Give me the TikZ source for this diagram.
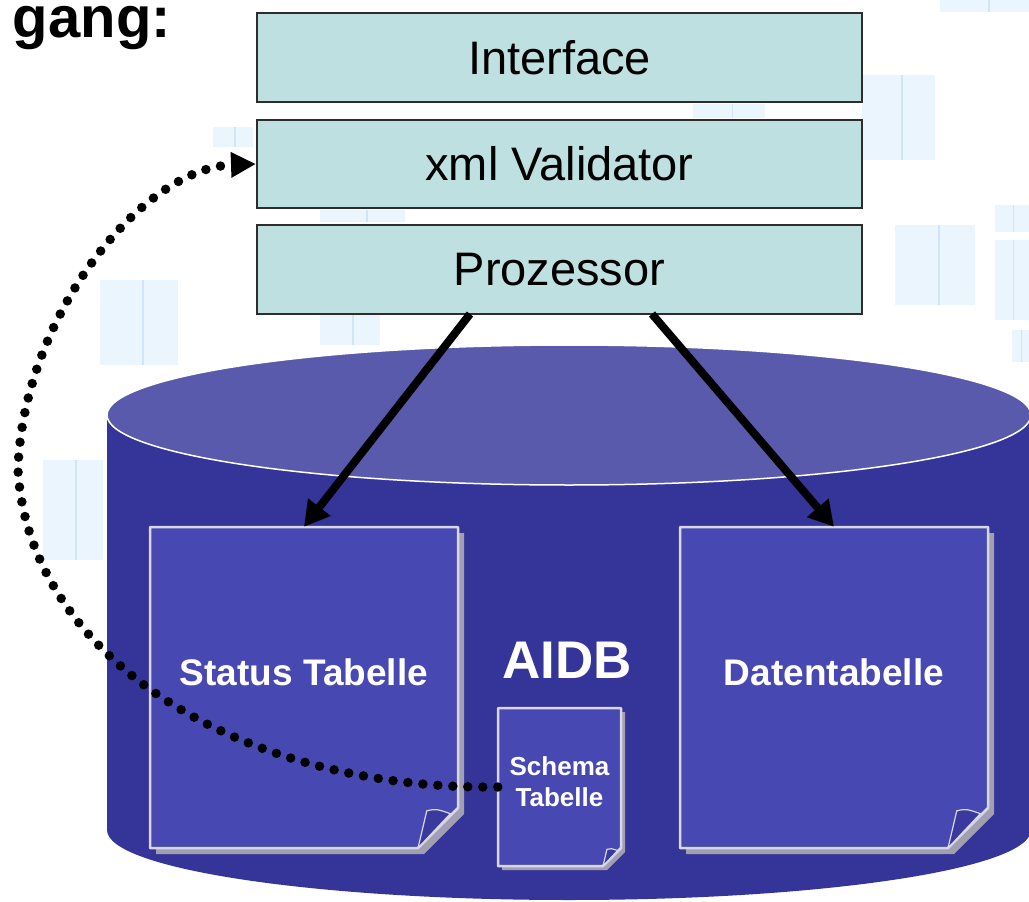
\documentclass[tikz,border=0pt]{standalone}
\usepackage{fontspec}
\setmainfont{Liberation Sans}
\usetikzlibrary{arrows.meta,calc}
\definecolor{boxfill}{RGB}{191,224,224}
\definecolor{boxline}{RGB}{45,45,45}
\definecolor{cylside}{RGB}{52,52,153}
\definecolor{cyltop}{RGB}{90,90,172}
\definecolor{docfill}{RGB}{72,72,178}
\definecolor{docline}{RGB}{215,215,232}
\definecolor{docshadow}{RGB}{160,160,176}
\definecolor{foldfill}{RGB}{58,58,158}
\definecolor{wmfill}{RGB}{234,245,254}
\definecolor{wmline}{RGB}{210,228,248}
\newcommand\docshape[6]{% x0 y0 x1 y1 cut shadow
  \fill[docshadow] (#1+#6,#2+#6) -- (#3+#6,#2+#6) -- (#3+#6,#4+#6-#5) -- (#3+#6-#5,#4+#6) -- (#1+#6,#4+#6) -- cycle;
  \filldraw[fill=docfill, draw=docline, line width=2.5pt, line join=round] (#1,#2) -- (#3,#2) -- (#3,#4-#5) -- (#3-#5,#4) -- (#1,#4) -- cycle;
  \filldraw[fill=foldfill, draw=docline, line width=1.2pt, line join=round] (#3-#5,#4) -- (#3-0.78*#5,#4-0.93*#5) .. controls (#3-0.55*#5,#4-0.98*#5) .. (#3-0.19*#5,#4-0.86*#5) -- cycle;
}
\newcommand\wmark[4]{%
  \fill[wmfill] (#1,#2) rectangle (#3,#4);
  \draw[wmline, line width=1.5pt] ({0.45*#1+0.55*#3},#2) -- ({0.45*#1+0.55*#3},#4);
}
\tikzset{
  layerbox/.style={draw=boxline, fill=boxfill, line width=2pt, minimum width=605pt, inner sep=0pt, font=\fontsize{47}{56}\selectfont},
  docnode/.style={draw=none, inner sep=0pt},
  doclabel/.style={text=white, font=\bfseries\fontsize{37}{42}\selectfont},
  bigarrow/.style={line width=8pt, -{Triangle[length=25pt,width=27pt]}},
  dotarrow/.style={line width=9.5pt, line cap=round, dash pattern=on 0pt off 15pt, -{Triangle[length=25pt,width=24pt]}}
}
\begin{document}
\begin{tikzpicture}[x=1pt,y=-1pt]
\useasboundingbox (0,0) rectangle (1029,902);
\clip (0,0) rectangle (1029,902);
\fill[white] (0,0) rectangle (1029,902);
% faint background sketches
\wmark{862}{75}{935}{160}
\wmark{895}{225}{975}{305}
\wmark{995}{240}{1029}{320}
\wmark{995}{205}{1029}{232}
\wmark{1012}{330}{1029}{362}
\wmark{940}{0}{1029}{12}
\wmark{100}{280}{178}{365}
\wmark{43}{460}{103}{560}
\wmark{213}{127}{253}{147}
\wmark{693}{104}{765}{118}
\wmark{320}{210}{405}{222}
\wmark{320}{300}{380}{345}
% title fragment
\node[anchor=base east, inner sep=0pt, font=\bfseries\fontsize{58}{58}\selectfont] (title) at (171,37) {gang:};
% cylinder
\fill[cylside] (107,415) rectangle (1031,830);
\fill[cylside] (569,830) ellipse [x radius=462, y radius=70];
\filldraw[fill=cyltop, draw=white, line width=1.5pt] (569,415) ellipse [x radius=462, y radius=70];
% documents
\docshape{150}{527}{458}{848}{40}{6}
\docshape{680}{527}{988}{848}{40}{6}
\docshape{498}{708}{621}{866}{18}{4}
\node[docnode, minimum width=308pt, minimum height=321pt, label={[doclabel, yshift=15.5pt]center:Status Tabelle}] (status) at (304,687.5) {};
\node[docnode, minimum width=308pt, minimum height=321pt, label={[doclabel, yshift=15.5pt]center:Datentabelle}] (daten) at (834,687.5) {};
\node[docnode, minimum width=123pt, minimum height=158pt, label={[text=white, align=center, font=\bfseries\fontsize{26}{31}\selectfont, yshift=5pt]center:Schema\\Tabelle}] (schema) at (559.5,787) {};
\node[text=white, font=\bfseries\fontsize{53}{60}\selectfont] (aidb) at (567,660) {AIDB};
% layer boxes
\node[layerbox, minimum height=89pt] (iface) at (559.5,57.5) {Interface};
\node[layerbox, minimum height=88pt] (xml) at (559.5,164) {xml Validator};
\node[layerbox, minimum height=89pt] (proz) at (559.5,269.5) {Prozessor};
% connectors
\coordinate (p1) at (470,314);
\coordinate (p2) at (652,314);
\draw[bigarrow] (p1) -- (status.north);
\draw[bigarrow] (p2) -- (daten.north);
\draw[dotarrow] (schema.west) .. controls (230,790) and (28,650) .. (18,470) .. controls (22,320) and (140,168) .. (xml.west);
\end{tikzpicture}
\end{document}
